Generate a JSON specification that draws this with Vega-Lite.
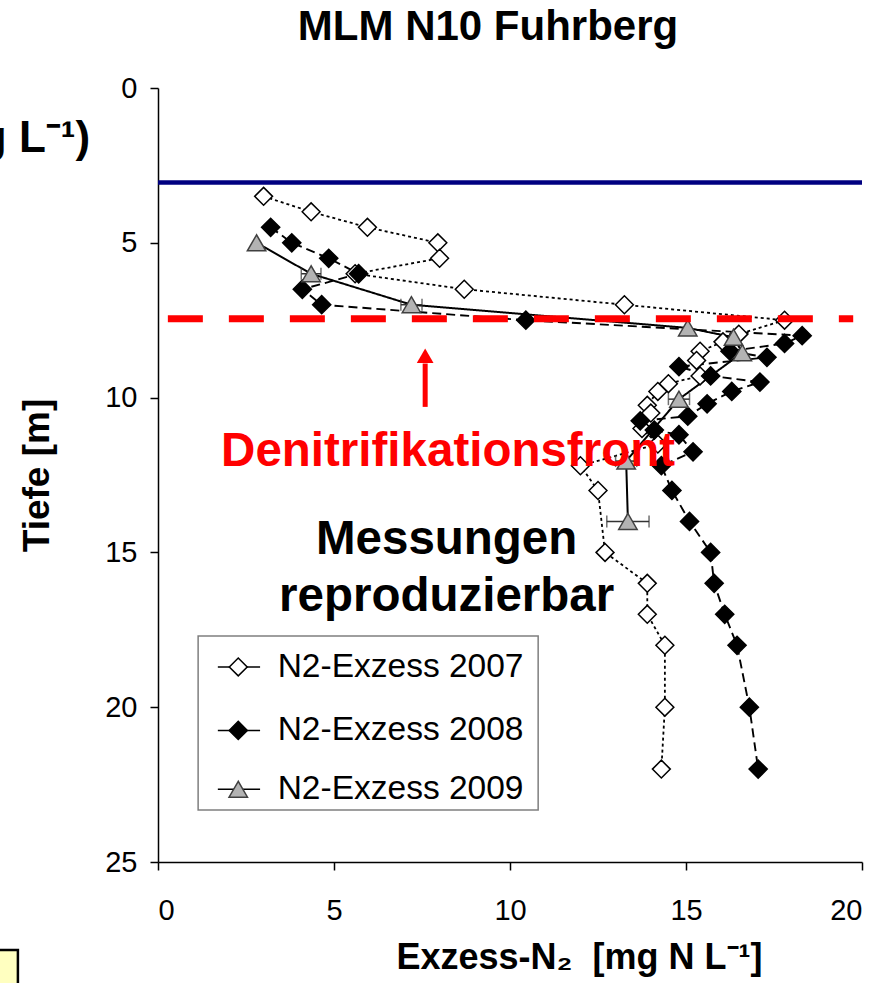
{
  "$schema": "https://vega.github.io/schema/vega-lite/v6.json",
  "width": 704,
  "height": 774,
  "autosize": "none",
  "padding": {"left": 158, "top": 88, "right": 32, "bottom": 121},
  "background": "white",
  "config": {"font": "Liberation Sans", "view": {"stroke": null}},
  "title": {"text": "MLM N10 Fuhrberg", "fontSize": 42, "fontWeight": "bold", "anchor": "middle", "dx": -22, "offset": -17, "baseline": "bottom", "color": "black", "font": "Liberation Sans"},
  "datasets": {
    "pts": [
      {"series": "2007", "i": 1, "x": 3.0, "y": 3.5},
      {"series": "2007", "i": 2, "x": 4.35, "y": 4.0},
      {"series": "2007", "i": 3, "x": 5.95, "y": 4.5},
      {"series": "2007", "i": 4, "x": 7.95, "y": 5.0},
      {"series": "2007", "i": 5, "x": 8.0, "y": 5.5},
      {"series": "2007", "i": 6, "x": 5.6, "y": 6.0},
      {"series": "2007", "i": 7, "x": 8.7, "y": 6.5},
      {"series": "2007", "i": 8, "x": 13.25, "y": 7.0},
      {"series": "2007", "i": 9, "x": 17.8, "y": 7.5},
      {"series": "2007", "i": 10, "x": 16.5, "y": 7.95},
      {"series": "2007", "i": 11, "x": 16.05, "y": 8.2},
      {"series": "2007", "i": 12, "x": 15.4, "y": 8.5},
      {"series": "2007", "i": 13, "x": 15.3, "y": 8.8},
      {"series": "2007", "i": 14, "x": 15.4, "y": 9.3},
      {"series": "2007", "i": 15, "x": 14.5, "y": 9.55},
      {"series": "2007", "i": 16, "x": 14.2, "y": 9.8},
      {"series": "2007", "i": 17, "x": 13.9, "y": 10.25},
      {"series": "2007", "i": 18, "x": 14.0, "y": 10.5},
      {"series": "2007", "i": 19, "x": 13.75, "y": 11.0},
      {"series": "2007", "i": 20, "x": 14.2, "y": 11.5},
      {"series": "2007", "i": 21, "x": 12.0, "y": 12.2},
      {"series": "2007", "i": 22, "x": 12.5, "y": 13.0},
      {"series": "2007", "i": 23, "x": 12.7, "y": 15.0},
      {"series": "2007", "i": 24, "x": 13.9, "y": 16.0},
      {"series": "2007", "i": 25, "x": 13.9, "y": 17.0},
      {"series": "2007", "i": 26, "x": 14.4, "y": 18.0},
      {"series": "2007", "i": 27, "x": 14.4, "y": 20.0},
      {"series": "2007", "i": 28, "x": 14.3, "y": 22.0},
      {"series": "2008", "i": 1, "x": 3.2, "y": 4.5},
      {"series": "2008", "i": 2, "x": 3.8, "y": 5.0},
      {"series": "2008", "i": 3, "x": 4.85, "y": 5.5},
      {"series": "2008", "i": 4, "x": 5.7, "y": 6.0},
      {"series": "2008", "i": 5, "x": 4.1, "y": 6.5},
      {"series": "2008", "i": 6, "x": 4.65, "y": 7.0},
      {"series": "2008", "i": 7, "x": 10.45, "y": 7.5},
      {"series": "2008", "i": 8, "x": 18.3, "y": 8.0},
      {"series": "2008", "i": 9, "x": 17.8, "y": 8.25},
      {"series": "2008", "i": 10, "x": 16.25, "y": 8.5},
      {"series": "2008", "i": 11, "x": 17.3, "y": 8.7},
      {"series": "2008", "i": 12, "x": 14.8, "y": 9.0},
      {"series": "2008", "i": 13, "x": 15.7, "y": 9.3},
      {"series": "2008", "i": 14, "x": 17.1, "y": 9.5},
      {"series": "2008", "i": 15, "x": 16.3, "y": 9.8},
      {"series": "2008", "i": 16, "x": 15.6, "y": 10.2},
      {"series": "2008", "i": 17, "x": 15.05, "y": 10.6},
      {"series": "2008", "i": 18, "x": 13.7, "y": 10.75},
      {"series": "2008", "i": 19, "x": 14.1, "y": 11.05},
      {"series": "2008", "i": 20, "x": 14.8, "y": 11.2},
      {"series": "2008", "i": 21, "x": 15.2, "y": 11.75},
      {"series": "2008", "i": 22, "x": 14.3, "y": 12.2},
      {"series": "2008", "i": 23, "x": 14.6, "y": 13.0},
      {"series": "2008", "i": 24, "x": 15.1, "y": 14.0},
      {"series": "2008", "i": 25, "x": 15.7, "y": 15.0},
      {"series": "2008", "i": 26, "x": 15.8, "y": 16.0},
      {"series": "2008", "i": 27, "x": 16.1, "y": 17.0},
      {"series": "2008", "i": 28, "x": 16.45, "y": 18.0},
      {"series": "2008", "i": 29, "x": 16.8, "y": 20.0},
      {"series": "2008", "i": 30, "x": 17.05, "y": 22.0},
      {"series": "2009", "i": 1, "x": 2.8, "y": 5.0},
      {"series": "2009", "i": 2, "x": 4.35, "y": 6.0},
      {"series": "2009", "i": 3, "x": 7.2, "y": 7.0},
      {"series": "2009", "i": 4, "x": 15.05, "y": 7.75},
      {"series": "2009", "i": 5, "x": 16.35, "y": 8.05},
      {"series": "2009", "i": 6, "x": 16.6, "y": 8.55},
      {"series": "2009", "i": 7, "x": 14.8, "y": 10.05},
      {"series": "2009", "i": 8, "x": 13.3, "y": 12.05},
      {"series": "2009", "i": 9, "x": 13.35, "y": 14.0}
    ],
    "err": [
      {"x1": 4.07, "x2": 4.63, "y": 6.0},
      {"x1": 6.9, "x2": 7.5, "y": 7.0},
      {"x1": 14.5, "x2": 15.1, "y": 10.05},
      {"x1": 13.0, "x2": 13.6, "y": 12.05},
      {"x1": 12.75, "x2": 13.95, "y": 14.0}
    ],
    "leg": [
      {"series": "2007", "y": 18.7, "label": "N2-Exzess 2007"},
      {"series": "2008", "y": 20.75, "label": "N2-Exzess 2008"},
      {"series": "2009", "y": 22.65, "label": "N2-Exzess 2009"}
    ]
  },
  "layer": [
    {
      "data": {"values": [{"y": 3.05}]},
      "mark": {"type": "rule", "color": "#000080", "strokeWidth": 4.5},
      "encoding": {
        "y": {"field": "y", "type": "quantitative", "scale": {"domain": [0, 25], "reverse": true, "nice": false, "zero": false},
          "axis": {"values": [0, 5, 10, 15, 20, 25], "title": "Tiefe [m]", "titleFontSize": 37, "titleFontWeight": "bold", "titleColor": "black", "titleX": -121, "titleY": 387, "titleAngle": -90, "titleAlign": "center", "titleBaseline": "middle", "labelFontSize": 29, "labelColor": "black", "labelPadding": 13, "tickSize": 8, "tickColor": "black", "domainColor": "black", "domainWidth": 1.5, "tickWidth": 1.5, "grid": false}}
      }
    },
    {
      "data": {"values": [{"x1": 1.14, "x2": 10.8, "y1": 17.7, "y2": 23.32}]},
      "mark": {"type": "rect", "fill": "white", "stroke": "#7f7f7f", "strokeWidth": 1.5},
      "encoding": {
        "x": {"field": "x1", "type": "quantitative", "scale": {"domain": [0, 20], "nice": false},
          "axis": {"values": [0, 5, 10, 15, 20], "title": "Exzess-N₂\u00a0\u00a0[mg N L⁻¹]", "titleFontSize": 36, "titleFontWeight": "bold", "titleColor": "black", "titleX": 421, "titleY": 95, "titleAlign": "center", "titleBaseline": "middle", "labelFontSize": 29, "labelColor": "black", "labelPadding": 26, "tickSize": 8, "tickColor": "black", "domainColor": "black", "domainWidth": 1.5, "tickWidth": 1.5, "grid": false}},
        "x2": {"field": "x2"},
        "y": {"field": "y1", "type": "quantitative"},
        "y2": {"field": "y2"}
      }
    },
    {
      "data": {"name": "pts"},
      "mark": {"type": "line", "color": "black"},
      "encoding": {
        "x": {"field": "x", "type": "quantitative"},
        "y": {"field": "y", "type": "quantitative"},
        "detail": {"field": "series"},
        "order": {"field": "i", "type": "quantitative"},
        "strokeDash": {"field": "series", "type": "nominal", "scale": {"domain": ["2007", "2008", "2009"], "range": [[3, 3], [9, 5], [1, 0]]}, "legend": null},
        "strokeWidth": {"field": "series", "type": "nominal", "scale": {"domain": ["2007", "2008", "2009"], "range": [1.8, 2, 1.8]}, "legend": null}
      }
    },
    {
      "data": {"name": "err"},
      "mark": {"type": "rule", "color": "#333333", "strokeWidth": 1.5},
      "encoding": {
        "x": {"field": "x1", "type": "quantitative"},
        "x2": {"field": "x2"},
        "y": {"field": "y", "type": "quantitative"}
      }
    },
    {
      "data": {"name": "err"},
      "mark": {"type": "tick", "orient": "vertical", "color": "#333333", "size": 12, "thickness": 1.5},
      "encoding": {
        "x": {"field": "x1", "type": "quantitative"},
        "y": {"field": "y", "type": "quantitative"}
      }
    },
    {
      "data": {"name": "err"},
      "mark": {"type": "tick", "orient": "vertical", "color": "#333333", "size": 12, "thickness": 1.5},
      "encoding": {
        "x": {"field": "x2", "type": "quantitative"},
        "y": {"field": "y", "type": "quantitative"}
      }
    },
    {
      "data": {"name": "pts"},
      "mark": {"type": "point", "filled": false, "strokeWidth": 1.5, "opacity": 1},
      "encoding": {
        "x": {"field": "x", "type": "quantitative"},
        "y": {"field": "y", "type": "quantitative"},
        "shape": {"field": "series", "type": "nominal", "scale": {"domain": ["2007", "2008", "2009"], "range": ["diamond", "diamond", "triangle-up"]}, "legend": null},
        "fill": {"field": "series", "type": "nominal", "scale": {"domain": ["2007", "2008", "2009"], "range": ["#ffffff", "#000000", "#b3b3b3"]}, "legend": null},
        "stroke": {"field": "series", "type": "nominal", "scale": {"domain": ["2007", "2008", "2009"], "range": ["#000000", "#000000", "#404040"]}, "legend": null},
        "size": {"field": "series", "type": "nominal", "scale": {"domain": ["2007", "2008", "2009"], "range": [320, 340, 440]}, "legend": null}
      }
    },
    {
      "data": {"name": "leg"},
      "mark": {"type": "rule", "color": "black", "strokeWidth": 1.5},
      "encoding": {
        "x": {"datum": 1.7, "type": "quantitative"},
        "x2": {"datum": 2.9},
        "y": {"field": "y", "type": "quantitative"}
      }
    },
    {
      "data": {"name": "leg"},
      "mark": {"type": "point", "filled": false, "strokeWidth": 1.5, "opacity": 1},
      "encoding": {
        "x": {"datum": 2.28, "type": "quantitative"},
        "y": {"field": "y", "type": "quantitative"},
        "shape": {"field": "series", "type": "nominal", "legend": null},
        "fill": {"field": "series", "type": "nominal", "legend": null},
        "stroke": {"field": "series", "type": "nominal", "legend": null},
        "size": {"field": "series", "type": "nominal", "legend": null}
      }
    },
    {
      "data": {"name": "leg"},
      "mark": {"type": "text", "align": "left", "baseline": "middle", "fontSize": 33.5, "color": "black"},
      "encoding": {
        "x": {"datum": 3.4, "type": "quantitative"},
        "y": {"field": "y", "type": "quantitative"},
        "text": {"field": "label"}
      }
    },
    {
      "data": {"values": [{"x1": 0.28, "x2": 19.75, "y": 7.45}]},
      "mark": {"type": "rule", "color": "#ff0000", "strokeWidth": 7, "strokeDash": [35, 26]},
      "encoding": {
        "x": {"field": "x1", "type": "quantitative"},
        "x2": {"field": "x2"},
        "y": {"field": "y", "type": "quantitative"}
      }
    },
    {
      "data": {"values": [{"x": 7.59, "y1": 8.9, "y2": 10.3}]},
      "mark": {"type": "rule", "color": "#ff0000", "strokeWidth": 5},
      "encoding": {
        "x": {"field": "x", "type": "quantitative"},
        "y": {"field": "y1", "type": "quantitative"},
        "y2": {"field": "y2"}
      }
    },
    {
      "data": {"values": [{"x": 7.59, "y": 8.65}]},
      "mark": {"type": "point", "shape": "triangle-up", "filled": true, "color": "#ff0000", "size": 280, "opacity": 1},
      "encoding": {
        "x": {"field": "x", "type": "quantitative"},
        "y": {"field": "y", "type": "quantitative"}
      }
    },
    {
      "data": {"values": [
        {"x": 8.24, "y": 11.76, "t": "Denitrifikationsfront", "c": "red"},
        {"x": 8.2, "y": 14.6, "t": "Messungen", "c": "black"},
        {"x": 8.2, "y": 16.44, "t": "reproduzierbar", "c": "black"}
      ]},
      "mark": {"type": "text", "align": "center", "baseline": "middle", "fontSize": 47.5, "fontWeight": "bold"},
      "encoding": {
        "x": {"field": "x", "type": "quantitative"},
        "y": {"field": "y", "type": "quantitative"},
        "text": {"field": "t"},
        "color": {"field": "c", "type": "nominal", "scale": {"domain": ["red", "black"], "range": ["#ff0000", "#000000"]}, "legend": null}
      }
    },
    {
      "data": {"values": [{"x": -1.93, "y": 2.07, "t": "(mg L⁻¹)"}]},
      "mark": {"type": "text", "align": "right", "baseline": "alphabetic", "fontSize": 44, "fontWeight": "bold", "color": "black"},
      "encoding": {
        "x": {"field": "x", "type": "quantitative"},
        "y": {"field": "y", "type": "quantitative"},
        "text": {"field": "t"}
      }
    },
    {
      "data": {"values": [{"x1": -5, "x2": -3.98, "y1": 27.84, "y2": 29.5}]},
      "mark": {"type": "rect", "fill": "#ffffc0", "stroke": "black", "strokeWidth": 2.5},
      "encoding": {
        "x": {"field": "x1", "type": "quantitative"},
        "x2": {"field": "x2"},
        "y": {"field": "y1", "type": "quantitative"},
        "y2": {"field": "y2"}
      }
    }
  ]
}
